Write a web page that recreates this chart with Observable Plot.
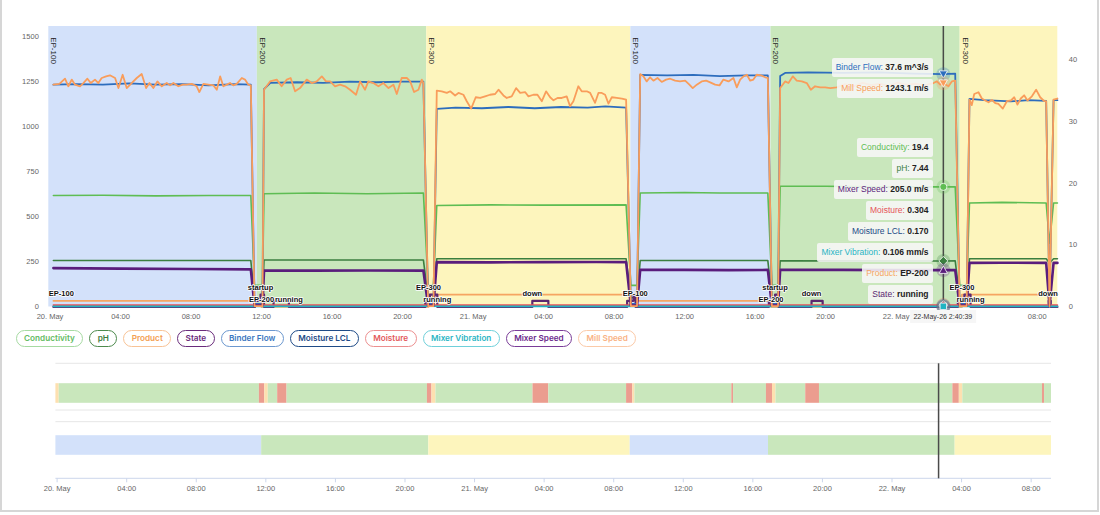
<!DOCTYPE html>
<html>
<head>
<meta charset="utf-8">
<script src="https://cdn.jsdelivr.net/npm/d3@7"></script>
<script src="https://cdn.jsdelivr.net/npm/@observablehq/plot@0.6"></script>
<style>
  body { margin: 0; background: #fff; font-family: "Liberation Sans", Arial, sans-serif; }
  #root { position: relative; width: 1100px; height: 515px; overflow: hidden; background: #fff; }
  #top { position: absolute; left: 0; top: 0; }
  #bottom { position: absolute; left: 0; top: 355px; }
  #tips { position: absolute; left: 0; top: 0; width: 1100px; height: 515px; pointer-events: none; }
  #legend { position: absolute; left: 15.7px; top: 330.3px; display: flex; gap: 6px; }
  .pill { box-sizing: border-box; height: 17px; padding: 0 7.4px; border: 1px solid; border-radius: 9px;
          font: 600 8.2px/15px Inter, "Noto Sans", sans-serif; white-space: nowrap; background: #fff; }
  .tip { position: absolute; box-sizing: border-box; height: 18.4px; padding: 0 4px; white-space: nowrap;
         font: 8.5px/18.4px "Liberation Sans", Arial, sans-serif; color: #333; background: rgba(247,247,247,0.88); border-radius: 2px; }
  .tip b { color: #222; }
  .when { position: absolute; box-sizing: border-box; height: 13.3px; padding: 0 3.5px; white-space: nowrap;
          font: 7px/13.3px "Liberation Sans", Arial, sans-serif; color: #333; background: #f6f6f6; transform: translateX(-50%); }
  #frame { position: absolute; left: 0; top: -3px; width: 1099px; height: 515px; border: 2px solid #d6d6d6; box-sizing: border-box; pointer-events: none; }
</style>
</head>
<body>
<div id="root">
  <div id="top"></div>
  <div id="legend"></div>
  <div id="bottom"></div>
  <div id="tips"></div>
  <div id="frame"></div>
</div>
<script>
// ---------- time (hours after 20 May 2026 00:00 UTC) ----------
const base = Date.UTC(2026, 4, 20);
const at = h => new Date(base + h * 3600e3);
const xStartH = -0.07, xEndH = 57.17;
const crossTime = new Date(Date.UTC(2026, 4, 22, 2, 40, 39));
const crossH = (crossTime - base) / 3600e3;

// ---------- product runs (start hour, product) ----------
const productRuns = [[-0.07, "EP-100"], [11.76, "EP-200"], [21.37, "EP-300"], [32.95, "EP-100"], [40.9, "EP-200"], [51.63, "EP-300"]];
// ---------- Product series samples (hour, product) ----------
const productSamples = [[0.19, "EP-100"], [12.0, "EP-200"], [21.47, "EP-300"], [33.2, "EP-100"], [40.9, "EP-200"], [51.73, "EP-300"], [57.15, "EP-300"]];
const productCode = { "EP-200": 0, "EP-100": 1, "EP-300": 2 };

// ---------- machine state events for the timeline (start hour, state) ----------
const stateEvents = [[-0.07, "startup"], [0.12, "running"], [11.63, "down"], [11.94, "startup"], [12.14, "running"], [12.68, "down"], [13.22, "running"],
  [21.29, "down"], [21.55, "startup"], [21.78, "running"], [27.36, "down"], [28.27, "running"], [32.74, "down"], [33.1, "startup"], [33.22, "running"],
  [38.79, "down"], [38.89, "running"], [40.78, "down"], [41.13, "startup"], [41.33, "running"], [43.04, "down"], [43.83, "running"],
  [51.5, "down"], [51.87, "startup"], [52.07, "running"], [56.65, "down"], [56.77, "running"]];

// ---------- State series samples (hour, state) ----------
const stateSamples = [[0.19, "running"], [11.63, "down"], [11.94, "startup"], [12.14, "running"], [12.68, "down"], [13.55, "running"],
  [21.29, "down"], [21.55, "startup"], [21.97, "running"], [27.36, "down"], [28.27, "running"], [32.74, "down"], [33.1, "startup"], [33.22, "running"],
  [40.78, "down"], [41.13, "startup"], [41.33, "running"], [43.2, "down"], [43.83, "running"], [51.5, "down"], [51.87, "startup"], [52.22, "running"],
  [56.65, "down"], [56.77, "running"], [57.15, "running"]];
const stateCode = { running: 0, down: 1, startup: 2 };

// ---------- sensor series [hour, value] ----------
const millSpeed = [
  [0.19,1235],[0.53,1239],[0.85,1268],[1.04,1226],[1.23,1263],[1.42,1235],[1.70,1226],[1.89,1244],[2.12,1268],[2.31,1244],[2.55,1263],[2.74,1244],
  [2.93,1272],[3.18,1281],[3.40,1287],[3.69,1272],[3.88,1216],[4.12,1290],[4.35,1216],[4.63,1244],[4.92,1272],[5.20,1294],[5.45,1216],[5.64,1244],
  [5.86,1216],[6.09,1253],[6.34,1226],[6.62,1244],[6.81,1231],[7.00,1244],[7.28,1226],[7.53,1235],[7.75,1235],[8.04,1239],[8.32,1226],[8.47,1194],
  [8.70,1239],[8.98,1235],[9.27,1231],[9.46,1207],[9.65,1281],[9.83,1226],[10.03,1235],[10.21,1244],[10.40,1231],[10.59,1239],[10.88,1272],
  [11.06,1263],[11.25,1235],[11.39,1231],[11.6,5],[12.05,5],
  [12.14,1207],[12.48,1253],[12.86,1263],[13.14,1226],[13.43,1263],[13.65,1272],[13.90,1198],[14.18,1216],[14.56,1263],[14.85,1244],[15.13,1253],
  [15.42,1281],[15.66,1253],[15.89,1253],[16.17,1226],[16.45,1235],[16.74,1226],[17.02,1207],[17.36,1179],[17.59,1253],[17.87,1207],[18.06,1253],
  [18.34,1244],[18.63,1226],[18.91,1244],[19.20,1216],[19.48,1235],[19.67,1183],[19.95,1272],[20.24,1272],[20.43,1253],[20.65,1194],[20.90,1207],
  [21.09,1263],[21.18,1244],[21.45,5],[21.75,5],
  [21.94,1202],[22.22,1198],[22.51,1189],[22.70,1198],[22.98,1175],[23.17,1189],[23.45,1179],[23.64,1143],[23.89,1102],[24.15,1165],[24.40,1161],
  [24.68,1170],[24.96,1179],[25.25,1183],[25.44,1207],[25.72,1175],[25.91,1161],[26.19,1170],[26.44,1216],[26.67,1189],[26.95,1194],[27.14,1170],
  [27.42,1179],[27.65,1179],[27.90,1143],[28.14,1198],[28.37,1165],[28.56,1148],[28.79,1161],[29.03,1161],[29.31,1170],[29.50,1115],[29.69,1143],
  [29.97,1226],[30.16,1198],[30.45,1198],[30.64,1189],[30.92,1134],[31.11,1189],[31.30,1189],[31.49,1179],[31.68,1130],[31.87,1165],[32.15,1161],
  [32.44,1157],[32.68,1152],[32.95,5],[33.3,5],
  [33.48,1294],[33.66,1281],[33.85,1253],[34.04,1276],[34.23,1257],[34.46,1272],[34.70,1250],[34.95,1263],[35.18,1268],[35.46,1257],[35.74,1253],
  [36.03,1257],[36.27,1235],[36.46,1216],[36.69,1235],[36.97,1253],[37.22,1257],[37.45,1248],[37.73,1235],[37.98,1231],[38.20,1263],[38.49,1253],
  [38.77,1272],[38.96,1220],[39.15,1263],[39.34,1281],[39.53,1290],[39.72,1257],[39.90,1263],[40.09,1290],[40.32,1287],[40.57,1276],[40.72,1272],
  [40.95,5],[41.3,5],
  [41.42,1216],[41.70,1253],[41.89,1244],[42.14,1281],[42.36,1257],[42.65,1253],[42.93,1244],[43.16,1207],[43.40,1226],[43.69,1220],[43.97,1220],
  [44.26,1216],[44.63,1220],[45.1,1238],[45.6,1226],[46.1,1245],[46.6,1232],[47.1,1240],[47.6,1228],[48.1,1246],[48.6,1234],[49.1,1240],[49.6,1231],
  [50.12,1244],[50.31,1253],[50.50,1235],[50.6775,1243.1],[50.97,1226],[51.16,1253],[51.35,1257],[51.6,5],[52.0,5],
  [52.16,1152],[52.29,1121],[52.43,1183],[52.67,1193],[52.86,1158],[53.05,1147],[53.24,1137],[53.43,1150],[53.62,1133],[53.80,1128],[54.05,1102],
  [54.28,1143],[54.51,1147],[54.70,1165],[54.88,1124],[55.07,1158],[55.26,1176],[55.45,1147],[55.70,1170],[55.94,1207],[56.17,1165],[56.40,1143],
  [56.51,1143],[56.70,5],[56.93,1152],[57.15,1158]
];

const binderFlow = [
  [0.19,35.9],[1.5,36.0],[3.0,35.9],[4.5,36.1],[6.0,35.9],[7.5,36.0],[9.0,35.8],[10.5,36.0],[11.39,35.9],[11.6,0.5],[12.05,0.5],
  [12.14,35.2],[12.5,36.2],[14,36.3],[15.5,36.2],[17,36.4],[18.5,36.3],[20,36.4],[21.18,36.4],[21.45,0.5],[21.75,0.5],
  [21.94,32.0],[23,32.2],[24.5,32.1],[26,32.3],[27.5,32.1],[29,32.3],[30.5,32.2],[31.5,32.4],[32.68,32.2],[32.95,0.5],[33.3,0.5],
  [33.48,37.5],[35,37.4],[36.5,37.5],[38,37.3],[39.5,37.4],[40.72,37.4],[40.95,0.5],[41.3,0.5],
  [41.42,37.3],[41.7,37.8],[43,37.9],[45,37.8],[47,37.9],[49,37.7],[50.6775,37.6],[51.35,37.7],[51.6,0.5],[52.0,0.5],
  [52.16,33.6],[53,33.4],[54.5,33.2],[55.5,33.4],[56.51,33.3],[56.7,0.5],[56.93,33.4],[57.15,33.4]
];

const conductivity = [
  [0.19,18.0],[3,18.05],[6,17.95],[9,18.0],[11.39,18.0],[11.6,3.5],[12.05,3.5],
  [12.14,18.3],[15,18.4],[18,18.3],[21.18,18.4],[21.45,3.5],[21.75,3.5],
  [21.94,16.4],[25,16.5],[28,16.45],[32.68,16.5],[32.95,3.5],[33.3,3.5],
  [33.48,18.4],[36,18.5],[38,18.4],[40.72,18.4],[40.95,3.5],[41.3,3.5],
  [41.42,19.5],[44,19.5],[47,19.4],[50.6775,19.4],[51.35,19.4],[51.6,3.5],[52.0,3.5],
  [52.16,16.8],[54,16.9],[56.51,16.8],[56.7,10.3],[56.93,16.8],[57.15,16.8]
];

const ph = [
  [0.19,7.5],[11.39,7.5],[11.6,1.5],[12.05,1.5],[12.14,7.6],[21.18,7.6],[21.45,1.5],[21.75,1.5],
  [21.94,7.8],[32.68,7.8],[32.95,1.5],[33.3,1.5],[33.48,7.5],[40.72,7.5],[40.95,1.5],[41.3,1.5],
  [41.42,7.45],[50.6775,7.44],[51.35,7.45],[51.6,1.5],[52.0,1.5],[52.16,7.8],[56.51,7.8],[56.7,7.1],[56.93,7.8],[57.15,7.8]
];

const mixerSpeed = [
  [0.19,216],[4,213],[8,211],[11.39,209],[11.6,8],[12.05,8],[12.14,202],[15,202],[18,203],[21.18,202],[21.45,8],[21.75,8],
  [21.94,249],[25,248],[28,249],[31,250],[32.68,249],[32.95,8],[33.3,8],[33.48,206],[36,206],[38.5,205],[40.72,206],[40.95,8],[41.3,8],
  [41.42,206],[45,206],[48,205],[50.6775,205.0],[51.35,205],[51.6,8],[52.0,8],[52.16,245],[54,246],[56.51,245],[56.7,8],[56.93,245],[57.15,245]
];

const moisture = [[0.19,0.31],[14,0.30],[28,0.31],[42,0.30],[50.6775,0.304],[57.15,0.30]];
const moistureLcl = [[0.19,0.17],[50.6775,0.170],[57.15,0.17]];
const mixerVibration = [[0.19,0.10],[20,0.11],[40,0.10],[50.6775,0.106],[57.15,0.10]];

// ---------- axes ----------
const leftTicks = [0, 250, 500, 750, 1000, 1250, 1500];
const rightTicks = [0, 10, 20, 30, 40];
const leftMax = 1558, rightMax = 45.3;
const k = leftMax / rightMax;   // right-axis units -> left-axis units

// ---------- series and styles ----------
const seriesNames = ["Conductivity", "pH", "Product", "State", "Binder Flow", "Moisture LCL", "Moisture", "Mixer Vibration", "Mixer Speed", "Mill Speed"];
const seriesAxis  = ["right", "right", "right", "right", "right", "right", "right", "right", "left", "left"];
const seriesUnits = ["", "", "", "", " m^3/s", "", "", " mm/s", " m/s", " m/s"];
const seriesDigits = [1, 2, null, null, 1, 3, 3, 3, 1, 1];

const lineColor  = ["#5ebd53", "#3b7f3f", "#f6a562", "#5c2870", "#2d6dbd", "#1d4a86", "#e5535a", "#1fb4c3", "#5a1d7c", "#f99d5b"];
const lineWidth  = [1.6, 1.6, 1.7, 2.2, 1.8, 1.5, 1.6, 1.6, 2.6, 1.8];
const legendText = ["#63bb63", "#3d7d3d", "#f3a052", "#6a2c7c", "#3b77c0", "#1f4b87", "#e35a5c", "#2bb6c5", "#6b2a8c", "#f9b385"];
const legendBorder = ["#a6daa2", "#4d8a4d", "#f8c396", "#6a2c7c", "#6c98cf", "#1f4b87", "#ec8f8f", "#6fd0da", "#7a3c98", "#fbcaa8"];
const markerShape = ["circle", "diamond", "square", "triangle", "triangleDown", "circle", "diamond", "square", "triangle", "triangleDown"];
const bandFill  = { "EP-100": "#d3e1fa", "EP-200": "#c9e7bc", "EP-300": "#fdf5bd" };
const stateFill = { running: "#c9e7bc", down: "#eb9d8f", startup: "#fde0b0" };

// ---------- derived tables ----------
const runsWithEnd = (list, endH) => list.map(([h, v], i) => ({ start: h, end: i + 1 < list.length ? list[i + 1][0] : endH, value: v }));
const bands = runsWithEnd(productRuns, xEndH);
const stateSegs = runsWithEnd(stateEvents, xEndH);

const seriesData = {
  "Conductivity": conductivity, "pH": ph, "Binder Flow": binderFlow, "Moisture LCL": moistureLcl, "Moisture": moisture,
  "Mixer Vibration": mixerVibration, "Mixer Speed": mixerSpeed, "Mill Speed": millSpeed,
  "Product": productSamples.map(([h, p]) => [h, productCode[p]]),
  "State": stateSamples.map(([h, s]) => [h, stateCode[s]])
};
const toLeft = (i, v) => seriesAxis[i] === "right" ? v * k : v;

const W = 1100, H1 = 330, mT = 26, mB = 23.5, mL = 48.3, mR = 42.7;
const xDomain = [at(xStartH), at(xEndH)];
const xs = Plot.scale({ x: { type: "utc", domain: xDomain, range: [mL, W - mR] } });
const ys = Plot.scale({ y: { type: "linear", domain: [0, leftMax], range: [H1 - mB, mT] } });

// ---------- point labels (Product and State changes), hiding overlaps ----------
const ctx = document.createElement("canvas").getContext("2d");
ctx.font = "bold 7.5px 'Liberation Sans'";
const candidates = [];
productSamples.forEach(([h, p], i) => { if (i === 0 || p !== productSamples[i - 1][1]) candidates.push({ h, text: p, v: productCode[p] * k }); });
stateSamples.forEach(([h, s], i) => { if (i === 0 || s !== stateSamples[i - 1][1]) candidates.push({ h, text: s, v: stateCode[s] * k }); });
const shown = [];
for (const c of candidates) {
  const w = ctx.measureText(c.text).width;
  let cx = xs.apply(at(c.h));
  cx = Math.max(mL + w / 2, Math.min(W - mR - w / 2, cx));
  const cy = ys.apply(c.v) - 7;
  const box = { x1: cx - w / 2 + 1, x2: cx + w / 2 - 1, y1: cy - 3.5, y2: cy + 3.5 };
  const hit = shown.some(o => box.x1 < o.box.x2 && box.x2 > o.box.x1 && box.y1 < o.box.y2 && box.y2 > o.box.y1);
  if (!hit) shown.push({ ...c, box, t: xs.invert(cx) });
}

// ---------- hover markers at the crosshair ----------
const symbolDraw = {
  circle: { draw(c, size) { const r = Math.sqrt(size / Math.PI); c.moveTo(r, 0); c.arc(0, 0, r, 0, 2 * Math.PI); } },
  square: { draw(c, size) { const r = Math.sqrt(size / Math.PI) * 0.9; c.rect(-r, -r, 2 * r, 2 * r); } },
  diamond: { draw(c, size) { const r = Math.sqrt(size / Math.PI) * 1.25; c.moveTo(0, -r); c.lineTo(r, 0); c.lineTo(0, r); c.lineTo(-r, 0); c.closePath(); } },
  triangle: { draw(c, size) { const r = Math.sqrt(size / Math.PI) * 1.15; c.moveTo(0, -r); c.lineTo(r, r * 0.8); c.lineTo(-r, r * 0.8); c.closePath(); } },
  triangleDown: { draw(c, size) { const r = Math.sqrt(size / Math.PI) * 1.15; c.moveTo(0, r); c.lineTo(r, -r * 0.8); c.lineTo(-r, -r * 0.8); c.closePath(); } }
};
const stepValue = (list, h) => { let v = list[0][1]; for (const [t, s] of list) if (t <= h) v = s; return v; };
const hover = seriesNames.map((name, i) => {
  let raw, label;
  if (name === "Product") { label = stepValue(productSamples, crossH); raw = productCode[label]; }
  else if (name === "State") { label = stepValue(stateSamples, crossH); raw = stateCode[label]; }
  else { raw = seriesData[name].find(d => Math.abs(d[0] - crossH) < 1e-6)[1]; label = raw.toFixed(seriesDigits[i]) + seriesUnits[i]; }
  return { i, name, y: toLeft(i, raw), label };
});

// ---------- top chart ----------
const lineMarks = seriesNames.map((name, i) =>
  Plot.line(seriesData[name], {
    x: d => at(d[0]), y: d => toLeft(i, d[1]),
    stroke: lineColor[i], strokeWidth: lineWidth[i],
    curve: (name === "Product" || name === "State") ? "step-after" : "linear",
    strokeLinejoin: "round"
  })
);
const markerMarks = hover.flatMap(d => [
  Plot.dot([d], { x: () => crossTime, y: "y", r: 7, fill: lineColor[d.i], fillOpacity: 0.25, stroke: "none" }),
  Plot.dot([d], { x: () => crossTime, y: "y", r: 3.6, fill: lineColor[d.i], stroke: "#fff", strokeWidth: 0.8, symbol: symbolDraw[markerShape[d.i]] })
]);
const fmtTick = d => d.getUTCHours() === 0 ? d3.utcFormat("%-d. %b")(d) : d3.utcFormat("%H:%M")(d);
const xTicks = d3.range(0, 57, 4).map(at);
const crossX = xs.apply(crossTime);
// the time label under the crosshair sits on top of the nearby axis label
const topTicks = xTicks.filter(t => Math.abs(xs.apply(t) - crossX) > 36);

const topChart = Plot.plot({
  width: W, height: H1, marginTop: mT, marginBottom: mB, marginLeft: mL, marginRight: mR,
  style: { fontFamily: "'Liberation Sans', Arial, sans-serif", fontSize: "7.5px", color: "#666", background: "transparent", overflow: "visible" },
  x: { type: "utc", domain: xDomain, label: null },
  y: { type: "linear", domain: [0, leftMax], label: null },
  marks: [
    Plot.rect(bands, { x1: d => at(d.start), x2: d => at(d.end), fill: d => bandFill[d.value] }),
    Plot.text(bands, { x: d => at(d.start), y: () => leftMax, text: "value", rotate: 90, textAnchor: "start", lineAnchor: "middle",
      dx: 5, dy: 10.7, fontSize: 8, fill: "#222" }),
    Plot.ruleX([crossTime], { stroke: "#3a3a3a", strokeWidth: 1.5, strokeOpacity: 0.9 }),
    ...lineMarks,
    Plot.text(shown, { x: "t", y: "v", text: "text", dy: -7, lineAnchor: "middle", fontSize: 7.5, fontWeight: "bold",
      fill: "#111", stroke: "#fff", strokeWidth: 1.6, paintOrder: "stroke" }),
    ...markerMarks,
    Plot.axisY({ ticks: leftTicks, tickSize: 0, tickPadding: 10, tickFormat: d3.format("d"), label: null }),
    Plot.axisY({ anchor: "right", ticks: rightTicks.map(v => v * k), tickSize: 0, tickPadding: 11, tickFormat: d => String(Math.round(d / k)), label: null }),
    Plot.axisX({ ticks: topTicks, tickSize: 0, tickPadding: 6.5, tickFormat: fmtTick, label: null })
  ]
});
document.getElementById("top").appendChild(topChart);

// ---------- legend ----------
const legend = document.getElementById("legend");
seriesNames.forEach((name, i) => {
  const el = document.createElement("div");
  el.className = "pill";
  el.textContent = name;
  el.style.color = legendText[i];
  el.style.borderColor = legendBorder[i];
  legend.appendChild(el);
});

// ---------- tooltip boxes at the crosshair ----------
const pitch = 21, boxH = 18.4, maxCenter = H1 - mB - 12, minCenter = mT + 9;
const items = hover.map(d => ({ ...d, target: ys.apply(d.y) })).sort((a, b) => a.target - b.target);
let groups = items.map(it => ({ members: [it] }));
const place = g => {
  const n = g.members.length;
  const s = d3.mean(g.members, m => m.target) - (n - 1) * pitch / 2;
  g.start = Math.max(minCenter, Math.min(s, maxCenter - (n - 1) * pitch));
};
groups.forEach(place);
for (let merged = true; merged;) {
  merged = false;
  for (let j = 1; j < groups.length; j++) {
    const a = groups[j - 1], b = groups[j];
    if (b.start < a.start + a.members.length * pitch - 0.01) {
      a.members = a.members.concat(b.members); groups.splice(j, 1); place(a); merged = true; break;
    }
  }
}
const tips = document.getElementById("tips");
groups.forEach(g => g.members.forEach((m, j) => {
  const el = document.createElement("div");
  el.className = "tip";
  el.style.right = (W - (crossX - 10.3)) + "px";
  el.style.top = (g.start + j * pitch - boxH / 2) + "px";
  const nm = document.createElement("span");
  nm.style.color = lineColor[m.i];
  nm.textContent = m.name + ": ";
  const val = document.createElement("b");
  val.textContent = m.label;
  el.append(nm, val);
  tips.appendChild(el);
}));
const when = document.createElement("div");
when.className = "when";
when.style.left = crossX + "px";
when.style.top = "310px";
when.textContent = d3.utcFormat("%d-%b-%y %-H:%M:%S")(crossTime);
tips.appendChild(when);

// ---------- bottom timeline (state row, product row) ----------
const H2 = 150, bL = 55.4, bR = 49, bT = 8.3, bB = 26.7;
const bottomChart = Plot.plot({
  width: W, height: H2, marginTop: bT, marginBottom: bB, marginLeft: bL, marginRight: bR,
  style: { fontFamily: "'Liberation Sans', Arial, sans-serif", fontSize: "7.5px", color: "#666", background: "transparent", overflow: "visible" },
  x: { type: "utc", domain: xDomain, label: null },
  y: { type: "band", domain: ["state", "product"], range: [11.1, 115.9], padding: 0, axis: null },
  marks: [
    Plot.barX(stateSegs, { x1: d => at(d.start), x2: d => at(d.end), y: () => "state", fill: d => stateFill[d.value], insetTop: 16.2, insetBottom: 16.2 }),
    Plot.barX(bands, { x1: d => at(d.start), x2: d => at(d.end), y: () => "product", fill: d => bandFill[d.value], insetTop: 16.2, insetBottom: 16.2 }),
    Plot.ruleX([crossTime], { stroke: "#4a4a4a", strokeWidth: 1.5 }),
    Plot.axisX({ ticks: xTicks, tickSize: 4, tickPadding: 3, tickFormat: fmtTick, stroke: "#ccd6eb", label: null })
  ]
});
// horizontal grid and the baseline behind the bars
const bsvg = d3.select(bottomChart);
const grid = bsvg.insert("g", "g");
[8.3, 55, 66.7].forEach(y => grid.append("line").attr("x1", bL).attr("x2", W - bR).attr("y1", y).attr("y2", y).attr("stroke", "#e6e6e6").attr("stroke-width", 1));
grid.append("line").attr("x1", bL).attr("x2", W - bR).attr("y1", H2 - bB).attr("y2", H2 - bB).attr("stroke", "#ccd6eb").attr("stroke-width", 1);
document.getElementById("bottom").appendChild(bottomChart);
</script>
</body>
</html>
